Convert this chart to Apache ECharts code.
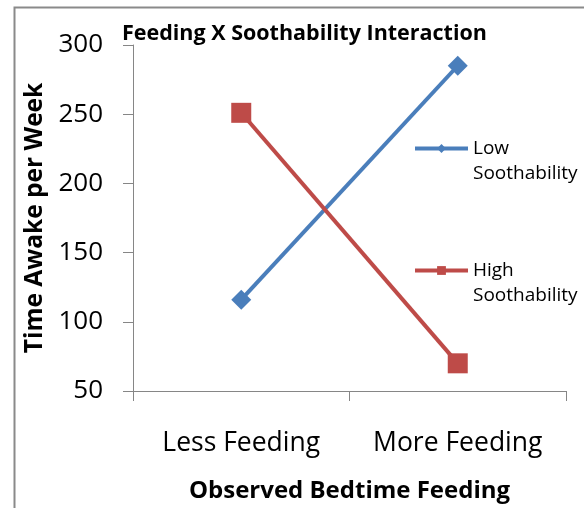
<!DOCTYPE html>
<html><head><meta charset="utf-8">
<script src="https://cdn.jsdelivr.net/npm/echarts@6/dist/echarts.min.js"></script>
<style>html,body{margin:0;padding:0;background:#fff}#c{width:584px;height:508px}</style>
</head><body><div id="c"></div>
<script>
const categories = ['Less Feeding', 'More Feeding'];
const lowSoothability = [116, 285];
const highSoothability = [251, 70];
const yTicks = {min: 50, max: 300, interval: 50};

const FONT = '"Open Sans", "Noto Sans", sans-serif';
const chart = echarts.init(document.getElementById('c'), null, {renderer: 'canvas'});
chart.setOption({
  animation: false,
  backgroundColor: '#fff',
  title: {
    text: 'Feeding X Soothability Interaction',
    left: 117, top: 18,
    textStyle: {fontFamily: FONT, fontWeight: 'bold', fontSize: 21.5, color: '#000'}
  },
  graphic: [{
    type: 'rect', shape: {x: 14.5, y: 7.5, width: 700, height: 700},
    style: {fill: 'none', stroke: '#8a8a8a', lineWidth: 2}, silent: true, z: -1
  }],
  legend: {
    orient: 'vertical', left: 408, top: 106, itemGap: 47,
    itemWidth: 53, itemHeight: 11,
    lineStyle: {width: 4},
    textStyle: {fontFamily: FONT, fontSize: 19, color: '#000', lineHeight: 25},
    formatter: function (n) { return '\n' + n.replace(' ', '\n'); },
    data: ['Low Soothability', 'High Soothability']
  },
  grid: {left: 133, right: 18, top: 45, bottom: 117},
  xAxis: {
    type: 'category', data: categories, boundaryGap: true,
    name: 'Observed Bedtime Feeding', nameLocation: 'middle', nameGap: 88,
    nameTextStyle: {fontFamily: FONT, fontWeight: 'bold', fontSize: 24, color: '#000'},
    axisLine: {lineStyle: {color: '#868686', width: 1}},
    axisTick: {show: true, interval: 0, length: 10, lineStyle: {color: '#868686'}},
    axisLabel: {fontFamily: FONT, fontSize: 26.5, color: '#000', margin: 39, interval: 0},
    splitLine: {show: false}
  },
  yAxis: {
    type: 'value', min: yTicks.min, max: yTicks.max, interval: yTicks.interval,
    name: 'Time Awake per Week', nameLocation: 'middle', nameGap: 83,
    nameTextStyle: {fontFamily: FONT, fontWeight: 'bold', fontSize: 24.5, color: '#000'},
    axisLine: {show: true, lineStyle: {color: '#868686', width: 1}},
    axisTick: {show: true, length: 10, lineStyle: {color: '#868686'}},
    axisLabel: {fontFamily: FONT, fontSize: 26, color: '#000', margin: 30},
    splitLine: {show: false}
  },
  series: [
    {
      name: 'Low Soothability', type: 'line', data: lowSoothability,
      symbol: 'diamond', symbolSize: 20,
      lineStyle: {color: '#4a7ebb', width: 4},
      itemStyle: {color: '#4a7ebb'}
    },
    {
      name: 'High Soothability', type: 'line', data: highSoothability,
      symbol: 'rect', symbolSize: 20,
      lineStyle: {color: '#be4b48', width: 4},
      itemStyle: {color: '#be4b48'}
    }
  ]
});
</script></body></html>
